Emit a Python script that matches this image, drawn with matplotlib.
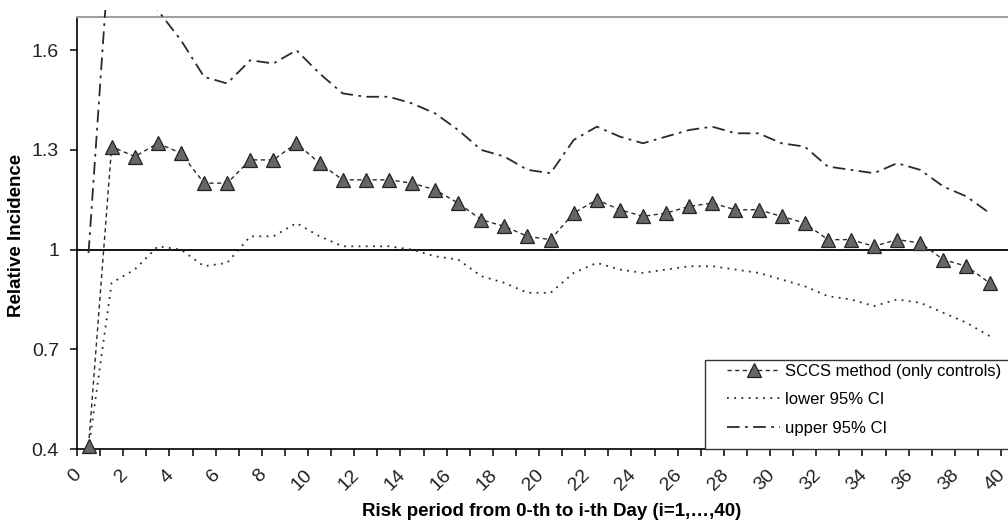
import numpy as np
import matplotlib.pyplot as plt
from matplotlib.patches import Rectangle
from matplotlib.transforms import ScaledTranslation

plt.rcParams["font.family"] = ["Liberation Sans", "DejaVu Sans"]

# risk period i = 1..40 (plotted at the middle of each category)
days = np.arange(1, 41)

sccs = [0.41, 1.31, 1.28, 1.32, 1.29, 1.20, 1.20, 1.27, 1.27, 1.32,
        1.26, 1.21, 1.21, 1.21, 1.20, 1.18, 1.14, 1.09, 1.07, 1.04,
        1.03, 1.11, 1.15, 1.12, 1.10, 1.11, 1.13, 1.14, 1.12, 1.12,
        1.10, 1.08, 1.03, 1.03, 1.01, 1.03, 1.02, 0.97, 0.95, 0.90]

lower_ci = [0.40, 0.90, 0.94, 1.01, 1.00, 0.95, 0.96, 1.04, 1.04, 1.08,
            1.04, 1.01, 1.01, 1.01, 1.00, 0.98, 0.97, 0.92, 0.90, 0.87,
            0.87, 0.93, 0.96, 0.94, 0.93, 0.94, 0.95, 0.95, 0.94, 0.93,
            0.91, 0.89, 0.86, 0.85, 0.83, 0.85, 0.84, 0.81, 0.78, 0.74]

upper_ci = [0.99, 2.00, 1.85, 1.72, 1.63, 1.52, 1.50, 1.57, 1.56, 1.60,
            1.53, 1.47, 1.46, 1.46, 1.44, 1.41, 1.36, 1.30, 1.28, 1.24,
            1.23, 1.33, 1.37, 1.34, 1.32, 1.34, 1.36, 1.37, 1.35, 1.35,
            1.32, 1.31, 1.25, 1.24, 1.23, 1.26, 1.24, 1.19, 1.16, 1.11]

ytick_vals = [0.4, 0.7, 1.0, 1.3, 1.6]
ytick_labels = ["0.4", "0.7", "1", "1.3", "1.6"]


def main():
    fig = plt.figure(figsize=(10.08, 5.22), dpi=100)
    ax = fig.add_axes([77 / 1008, 73 / 522, 931 / 1008, 432 / 522])

    x = days - 0.5
    line_col = "#2a2a2a"

    ax.axhline(1.0, color="black", linewidth=1.3, zorder=1)

    l_sccs, = ax.plot(x, sccs, color=line_col, linewidth=1.0,
                      linestyle=(0, (3, 2.5)), marker="^", markersize=10,
                      markerfacecolor="#666666", markeredgecolor="#222222",
                      markeredgewidth=0.9, label="SCCS method (only controls)",
                      zorder=4)
    l_low, = ax.plot(x, lower_ci, color=line_col, linewidth=1.3,
                     linestyle=(0, (1, 3)), label="lower 95% CI", zorder=3)
    l_up, = ax.plot(x, upper_ci, color=line_col, linewidth=1.3,
                    linestyle=(0, (7, 3, 1.5, 3)), label="upper 95% CI",
                    zorder=3)

    # excel lets the lines run a few pixels past the plot frame
    for ln in (l_sccs, l_low, l_up):
        clip = Rectangle((0, -0.02), 1, 1.036, transform=ax.transAxes)
        ln.set_clip_path(clip)

    ax.set_xlim(0, 40.3)
    ax.set_ylim(0.4, 1.7)

    ax.set_xticks(np.arange(0, 41, 2))
    ax.set_xticks(np.arange(0, 41, 1), minor=True)
    ax.set_xticklabels([str(v) for v in range(0, 41, 2)])
    ax.set_yticks(ytick_vals)
    ax.set_yticklabels(ytick_labels)

    ax.tick_params(axis="x", which="both", direction="out", length=5,
                   width=1.1, color="black")
    ax.tick_params(axis="x", which="major", pad=12, labelsize=14)
    ax.tick_params(axis="y", direction="out", length=5, width=1.1,
                   pad=8, labelsize=14, labelcolor="#222222")
    # rotated labels end just right of their tick, like excel does
    shift = ScaledTranslation(2 / 100, 0, fig.dpi_scale_trans)
    for lab in ax.get_xticklabels():
        lab.set_rotation(45)
        lab.set_rotation_mode("anchor")
        lab.set_ha("right")
        lab.set_va("center")
        lab.set_color("#222222")
        lab.set_transform(lab.get_transform() + shift)

    for side in ("left", "bottom"):
        ax.spines[side].set_color("black")
        ax.spines[side].set_linewidth(1.2)
    ax.spines["top"].set_color("#a0a0a0")
    ax.spines["top"].set_linewidth(1.5)
    ax.spines["right"].set_visible(False)

    fig.text(17 / 1008, 1 - 235 / 522, "Relative Incidence", rotation=90,
             ha="center", va="center", fontsize=13.5, fontweight="bold")
    fig.text(552 / 1008, 1 - 512 / 522,
             "Risk period from 0-th to i-th Day (i=1,\u2026,40)",
             ha="center", va="center", fontsize=13.5, fontweight="bold")

    # legend box runs off the right edge, so the frame is drawn by hand
    frame = Rectangle(((705 - 77) / 931, 0), 0.34, (449 - 360) / 432,
                      transform=ax.transAxes, facecolor="white",
                      edgecolor="#333333", linewidth=1.0, zorder=5,
                      clip_on=False)
    ax.add_patch(frame)
    leg = ax.legend(loc="upper left", bbox_to_anchor=((727 - 77) / 931, 0.197),
                    fontsize=12, frameon=False, borderpad=0,
                    handlelength=3.2, handletextpad=0.3, labelspacing=0.8,
                    borderaxespad=0)
    leg.set_zorder(6)

    fig.savefig("out.png", dpi=100)


if __name__ == "__main__":
    main()
